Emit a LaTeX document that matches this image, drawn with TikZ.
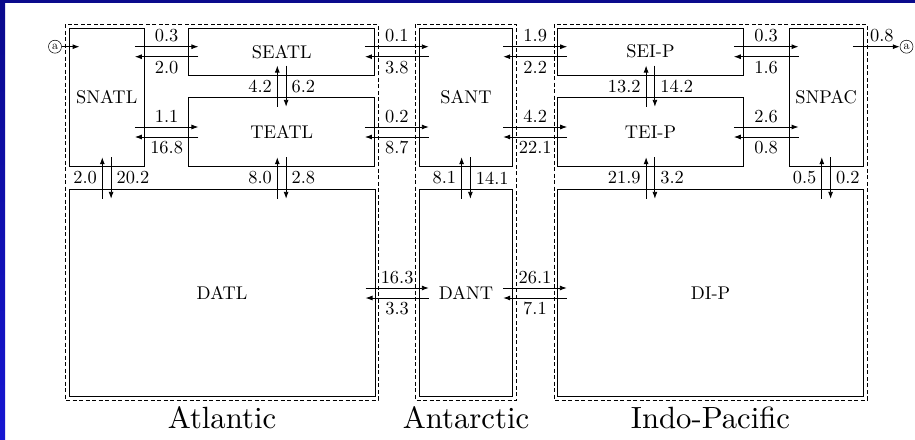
\documentclass[tikz,border=0pt]{standalone}
\usetikzlibrary{calc,arrows.meta}
\definecolor{navy}{RGB}{10,10,140}
\definecolor{brightblue}{RGB}{22,22,210}
\font\lblfont="[lmroman10-regular]:+tlig;" at 18.4pt
\font\ttlfont="[lmroman10-regular]:+tlig;" at 30.7pt
\font\cafont="[lmroman10-regular]:+tlig;" at 12pt
\newcommand{\hpair}[5]{%
  \draw[arr] ($(#1.east |- #3.center)+(-10,-5)$) -- node[num,above=3pt]{#4} ($(#2.west |- #3.center)+(10,-5)$);
  \draw[arr] ($(#2.west |- #3.center)+(10,5)$) -- node[num,below=3pt]{#5} ($(#1.east |- #3.center)+(-10,5)$);}
\newcommand{\vpair}[5]{%
  \draw[arr] ($(#3.center |- #2.north)+(-4.4,10)$) -- node[num,left=4pt]{#4} ($(#3.center |- #1.south)+(-4.4,-10)$);
  \draw[arr] ($(#3.center |- #1.south)+(4.4,-10)$) -- node[num,right=4pt]{#5} ($(#3.center |- #2.north)+(4.4,10)$);}
\begin{document}
\begin{tikzpicture}[x=1pt,y=-1pt,
  box/.style={draw, line width=1pt, font=\lblfont, inner sep=0pt},
  region/.style={draw, dash pattern=on 4pt off 2.5pt, line width=0.9pt},
  arr/.style={-{Latex[length=7pt,width=5pt]}, line width=0.9pt},
  num/.style={font=\lblfont, inner sep=1pt},
  title/.style={font=\ttlfont, anchor=base, inner sep=0pt},
  ca/.style={circle, draw, line width=0.5pt, minimum size=13pt, inner sep=0pt, font=\cafont}
]
\useasboundingbox (0,0) rectangle (915,439);
\fill[white] (0,0) rectangle (915,439);
\fill[navy] (0,0) rectangle (915,3);
\shade[top color=navy, bottom color=brightblue] (0,0) rectangle (5,439);

% regions
\draw[region] (65,24) rectangle (378,400);
\draw[region] (415.7,24) rectangle (516.7,400);
\draw[region] (554,24) rectangle (867,400);

% boxes
\node[box, minimum width=75.3pt, minimum height=138.4pt] (SNATL) at (106.7,97.5) {SNATL};
\node[box, minimum width=185.5pt, minimum height=46.7pt] (SEATL) at (281.7,51.7) {SEATL};
\node[box, minimum width=185.5pt, minimum height=69.4pt] (TEATL) at (281.7,132) {TEATL};
\node[box, minimum width=306pt, minimum height=207.4pt] (DATL) at (222,293) {DATL};
\node[box, minimum width=93.4pt, minimum height=138.4pt] (SANT) at (466,97.5) {SANT};
\node[box, minimum width=93.4pt, minimum height=207.4pt] (DANT) at (466,293) {DANT};
\node[box, minimum width=185.6pt, minimum height=46.7pt] (SEIP) at (650.5,51.7) {SEI-P};
\node[box, minimum width=185.6pt, minimum height=69.4pt] (TEIP) at (650.5,132) {TEI-P};
\node[box, minimum width=74.3pt, minimum height=138.4pt] (SNPAC) at (826.2,97.5) {SNPAC};
\node[box, minimum width=306.4pt, minimum height=207.4pt] (DIP) at (710.5,293) {DI-P};

% horizontal exchanges
\hpair{SNATL}{SEATL}{SEATL}{0.3}{2.0}
\hpair{SNATL}{TEATL}{TEATL}{1.1}{16.8}
\hpair{SEATL}{SANT}{SEATL}{0.1}{3.8}
\hpair{TEATL}{SANT}{TEATL}{0.2}{8.7}
\hpair{SANT}{SEIP}{SEIP}{1.9}{2.2}
\hpair{SANT}{TEIP}{TEIP}{4.2}{22.1}
\hpair{SEIP}{SNPAC}{SEIP}{0.3}{1.6}
\hpair{TEIP}{SNPAC}{TEIP}{2.6}{0.8}
\hpair{DATL}{DANT}{DATL}{16.3}{3.3}
\hpair{DANT}{DIP}{DIP}{26.1}{7.1}

% vertical exchanges
\vpair{SEATL}{TEATL}{SEATL}{4.2}{6.2}
\vpair{SNATL}{DATL}{SNATL}{2.0}{20.2}
\vpair{TEATL}{DATL}{TEATL}{8.0}{2.8}
\vpair{SANT}{DANT}{SANT}{8.1}{14.1}
\vpair{SEIP}{TEIP}{SEIP}{13.2}{14.2}
\vpair{TEIP}{DIP}{TEIP}{21.9}{3.2}
\vpair{SNPAC}{DIP}{SNPAC}{0.5}{0.2}

% inflow / outflow
\node[ca] (ainL) at (55,46.7) {a};
\node[ca] (aoutR) at (906.5,46.7) {a};
\draw[arr] (ainL.east) -- ($(SNATL.west |- ainL.center)+(11,0)$);
\draw[arr] ($(SNPAC.east |- aoutR.center)+(-11,0)$) -- node[num,above=3pt,pos=0.62]{0.8} (aoutR.west);

% titles
\node[title] (tA) at (222,428.3) {Atlantic};
\node[title] (tB) at (466,428.3) {Antarctic};
\node[title] (tC) at (710.5,428.3) {Indo-Pacific};
\end{tikzpicture}
\end{document}
